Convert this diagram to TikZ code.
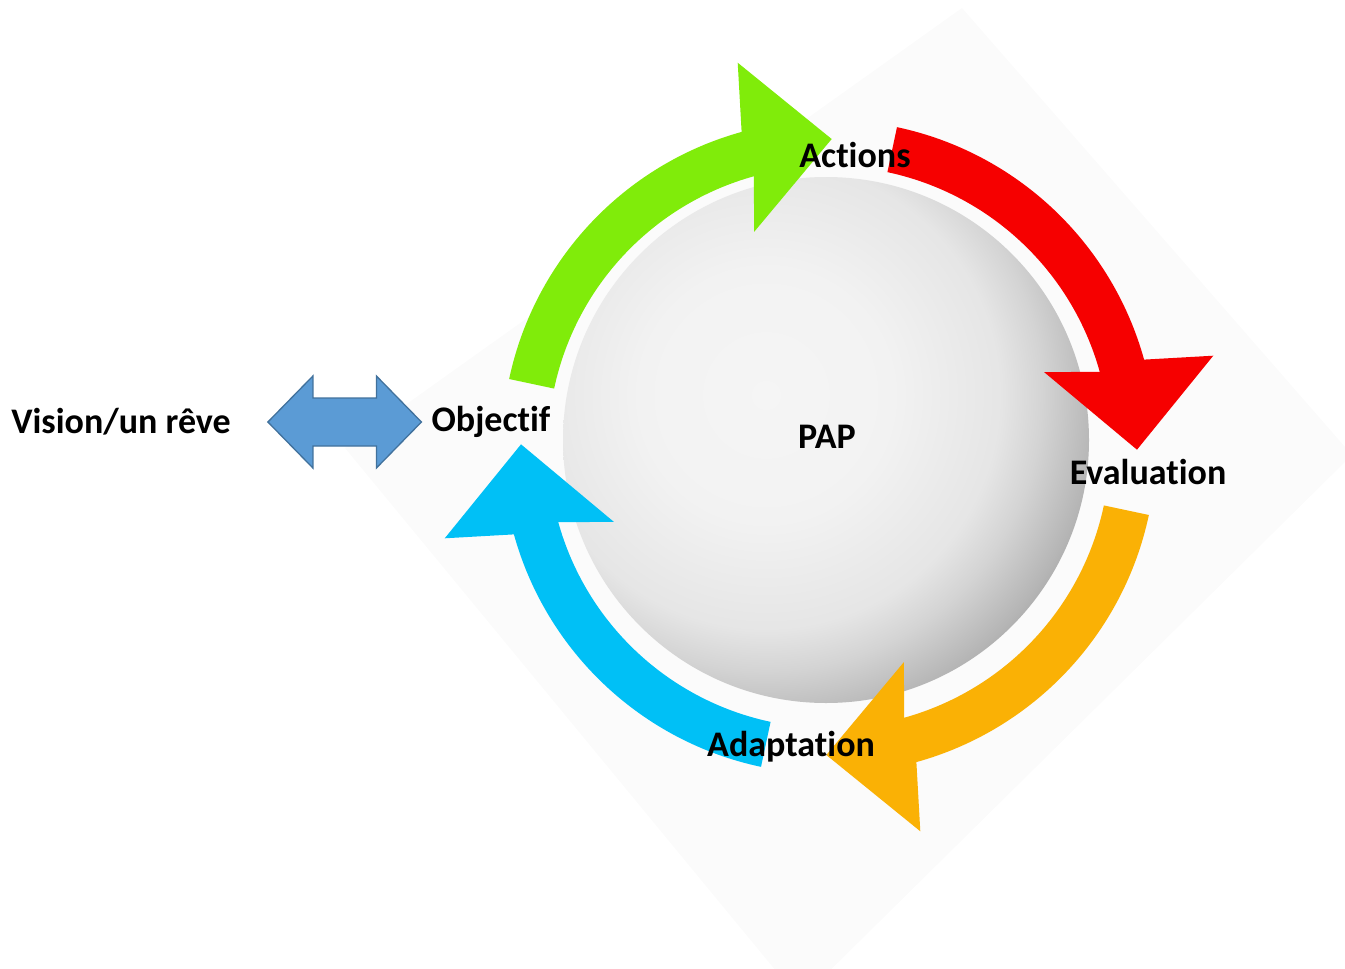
\documentclass[tikz,border=0pt]{standalone}
\usepackage{fontspec}
\setmainfont{Carlito}[Ligatures={NoCommon,NoContextual}]
\usetikzlibrary{calc}
\definecolor{cgreen}{RGB}{128,236,10}
\definecolor{cred}{RGB}{246,0,0}
\definecolor{corange}{RGB}{250,177,5}
\definecolor{cblue}{RGB}{0,192,246}
\definecolor{linkblue}{RGB}{91,155,213}
\definecolor{linkedge}{RGB}{65,113,156}
\pgfdeclareradialshading{papglow}{\pgfpoint{0bp}{0bp}}{%
  color(0bp)=(black!4); color(9bp)=(black!5); color(17bp)=(black!10);
  color(20bp)=(black!17); color(24bp)=(black!29); color(28bp)=(black!45);
  color(31bp)=(black!55); color(50bp)=(black!55)}
\begin{document}
\begin{tikzpicture}[x=1pt,y=1pt,
	lbl/.style={font=\fontsize{36}{42}\selectfont\bfseries,inner sep=0pt},
	link/.style={fill=linkblue,draw=linkedge,line width=1.3pt,line join=miter}]
	\useasboundingbox (0,0) rectangle (1345,-969);
	\clip (0,0) rectangle (1345,-969);
	\path (826,-440) coordinate (S)
	(829,-447) coordinate (C)
	(766,-395) coordinate (L);
	% faint backdrop
	\fill[black!1.5] (962,-8)--(1352,-455)--(800,-1000)--(345,-448)--cycle;
	% sphere
	\begin{scope}
	\clip (S) circle (263);
	\shade[shading=papglow] (L) circle (345);
	\end{scope}
	% cycle arrows
	\begin{scope}[shift={(C)}]
	\foreach \c [count=\k from 0] in {cgreen,cred,corange,cblue}{
	\pgfmathsetmacro\ta{168-90*\k}
	\pgfmathsetmacro\ba{105.5-90*\k}
	\pgfmathsetmacro\pa{89.5-90*\k}
	\path (\ba:311) coordinate (B) (\pa:308) coordinate (T);
	\fill[\c] (\ta:327) arc[start angle=\ta,end angle=\ba,radius=327]
	--($(B)!85pt!90:(T)$)--(T)--($(B)!85pt!-90:(T)$)
	--(\ba:281) arc[start angle=\ba,end angle=\ta,radius=281]--cycle;
	}
	\end{scope}
	% labels
	\node[lbl] (vision) at (121,-422) {Vision/un rêve};
	\node[lbl] (objectif) at (491,-422) {Objectif};
	\node[lbl] (actions) at (855,-155) {Actions};
	\node[lbl] (pap) at (827,-437) {PAP};
	\node[lbl] (evaluation) at (1148,-472) {Evaluation};
	\node[lbl] (adaptation) at (791,-747) {Adaptation};
	% vision <-> objectif
	\path ($(vision.east)+(37,0)$) coordinate (la)
	($(objectif.west)+(-10,0)$) coordinate (ra);
	\draw[link] (la)--($(la)+(45,46)$)--($(la)+(45,24)$)--($(ra)+(-45,24)$)
	--($(ra)+(-45,46)$)--(ra)--($(ra)+(-45,-46)$)--($(ra)+(-45,-24)$)
	--($(la)+(45,-24)$)--($(la)+(45,-46)$)--cycle;
\end{tikzpicture}
\end{document}
